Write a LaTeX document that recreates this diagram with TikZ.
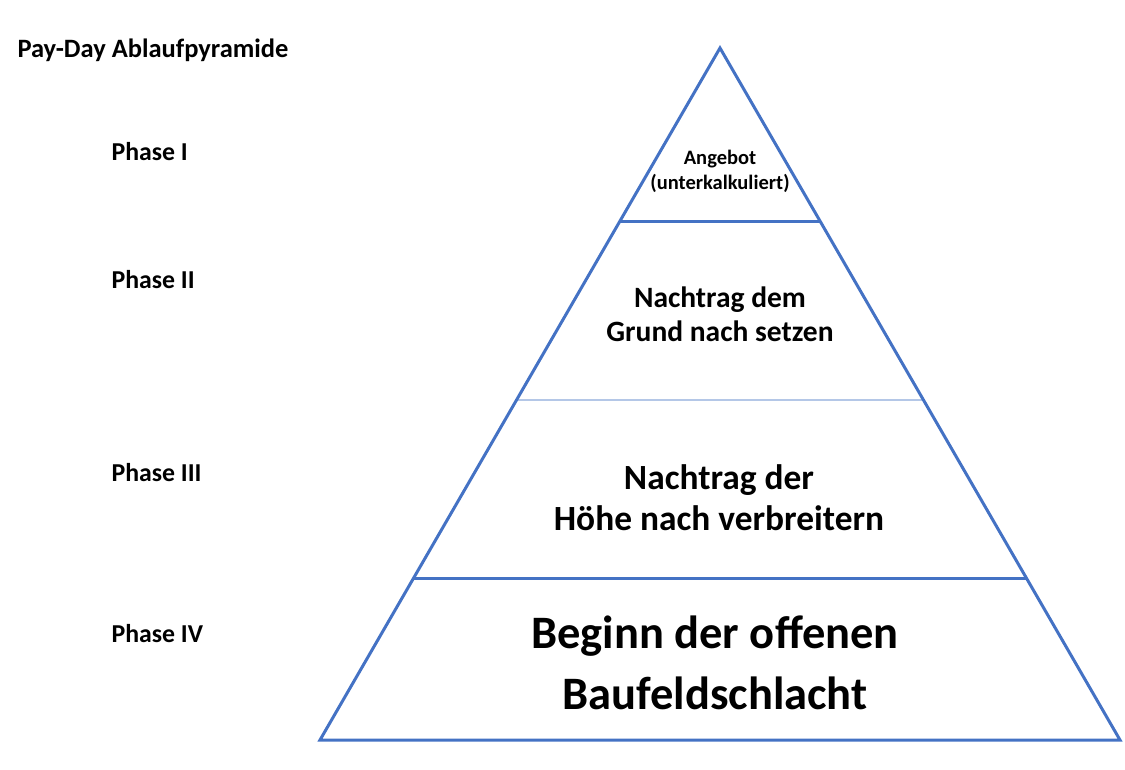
\documentclass[tikz,border=0pt]{standalone}
\usepackage{fontspec}
\setmainfont{Carlito}
\usepackage{xcolor}
\definecolor{pyrblue}{HTML}{4472C4}
\definecolor{pyrlight}{HTML}{B4C7E7}
\usetikzlibrary{positioning,calc}

\begin{document}
\begin{tikzpicture}[x=1pt, y=-1pt,
    edge/.style={pyrblue, line width=3pt, line join=miter},
    phase/.style={anchor=west, font=\fontsize{25.8}{30}\selectfont\bfseries},
    stage/.style={align=center}]
    \useasboundingbox (0,0) rectangle (1125,770);

    % Title
    \node[anchor=west, font=\fontsize{26.5}{30}\selectfont\bfseries] (title) at (14,50) {Pay-Day Ablaufpyramide};

    % Pyramid corners
    \coordinate (apex) at (720,48);
    \coordinate (bl) at (320,740);
    \coordinate (br) at (1120,740);

    % Dividing lines
    \coordinate (l1) at ($(apex)!0.2514!(bl)$);
    \coordinate (r1) at ($(apex)!0.2514!(br)$);
    \coordinate (l2) at ($(apex)!0.5087!(bl)$);
    \coordinate (r2) at ($(apex)!0.5087!(br)$);
    \coordinate (l3) at ($(apex)!0.7659!(bl)$);
    \coordinate (r3) at ($(apex)!0.7659!(br)$);

    \draw[pyrlight, line width=2.5pt] (l2) -- (r2);
    \draw[edge] (l1) -- (r1);
    \draw[edge] (l3) -- (r3);
    \draw[edge] (apex) -- (bl) -- (br) -- cycle;

    % Stage texts
    \node[stage, font=\fontsize{20.5}{25}\selectfont\bfseries] (s1) at (720,171) {Angebot\\(unterkalkuliert)};
    \node[stage, font=\fontsize{29.5}{34}\selectfont\bfseries] (s2) at (720,314) {Nachtrag dem\\Grund nach setzen};
    \node[stage, font=\fontsize{35.4}{41}\selectfont\bfseries] (s3) at (719,498) {Nachtrag der\\Höhe nach verbreitern};
    \node[stage, font=\fontsize{46.5}{61}\selectfont\bfseries] (s4) at (715,663) {Beginn der offenen\\Baufeldschlacht};

    % Phase labels
    \node[phase] (p1) at (108,152) {Phase I};
    \node[phase] (p2) at (108,280) {Phase II};
    \node[phase] (p3) at (108,473) {Phase III};
    \node[phase] (p4) at (108,634) {Phase IV};
\end{tikzpicture}
\end{document}
